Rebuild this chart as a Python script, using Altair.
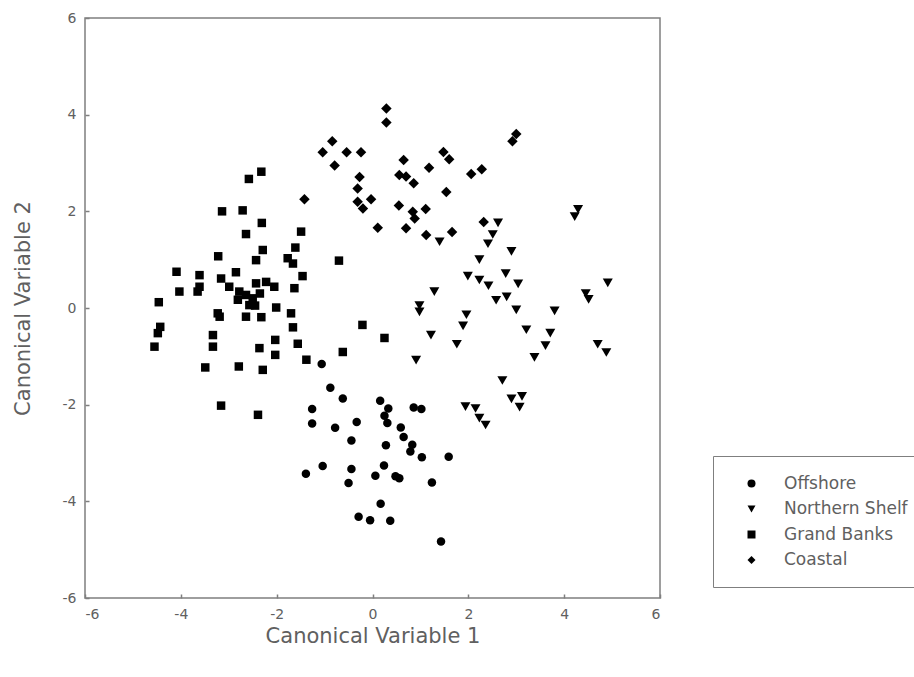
import altair as alt
import pandas as pd

groups = ["Offshore", "Northern Shelf", "Grand Banks", "Coastal"]

offshore_x = [-1.06, -0.88, -0.62, -1.26, -1.26, -0.78, -0.33, -0.44, 0.16, 0.33, 0.25, 0.31,
              0.86, 1.02, 0.59, 0.65, 0.83, 0.79, 0.28, 1.03, 1.59, -1.39, -1.04, -0.44, -0.50,
              0.24, 0.06, 0.48, 0.56, 1.24, 0.17, -0.29, -0.05, 0.37, 1.43]
offshore_y = [-1.16, -1.65, -1.87, -2.09, -2.39, -2.48, -2.36, -2.74, -1.92, -2.08, -2.23, -2.38,
              -2.06, -2.09, -2.47, -2.67, -2.83, -2.97, -2.84, -3.09, -3.08, -3.43, -3.27, -3.33, -3.62,
              -3.26, -3.47, -3.48, -3.52, -3.61, -4.05, -4.32, -4.39, -4.40, -4.83]

shelf_x = [4.29, 4.22, 2.62, 2.51, 2.41, 2.90, 2.23, 1.40, 1.99, 2.23, 2.42, 2.78, 3.04, 4.91,
           4.45, 4.51, 2.58, 2.80, 3.00, 3.80, 3.21, 3.71, 3.61, 3.38, 4.70, 4.88, 1.96, 1.89,
           1.22, 1.76, 0.91, 1.29, 0.98, 0.98, 2.71, 2.90, 3.12, 3.07, 1.94, 2.15, 2.23, 2.36]
shelf_y = [2.04, 1.89, 1.76, 1.52, 1.33, 1.17, 1.00, 1.37, 0.66, 0.58, 0.46, 0.71, 0.50, 0.52,
           0.30, 0.18, 0.16, 0.23, -0.04, -0.06, -0.45, -0.52, -0.78, -1.02, -0.75, -0.92, -0.14, -0.37,
           -0.56, -0.75, -1.08, 0.34, 0.05, -0.08, -1.50, -1.88, -1.83, -2.05, -2.04, -2.08, -2.28, -2.42]

banks_x = [-2.32, -2.58, -3.14, -2.71, -2.31, -2.64, -1.49, -1.61, -1.77, -1.66, -2.29, -2.43,
           -3.22, -1.46, -1.63, -4.09, -3.61, -3.61, -4.03, -3.16, -2.85, -2.99, -2.43, -2.22,
           -2.05, -4.46, -3.65, -3.23, -3.19, -4.43, -4.48, -4.55, -3.33, -3.33, -3.49, -2.79,
           -2.29, -2.36, -2.03, -2.03, -1.66, -1.56, -2.01, -1.70, -2.32, -2.64, -2.81, -2.57,
           -2.64, -1.38, -3.16, -2.39, -0.70, -0.21, 0.25, -0.62, -2.78, -2.50, -2.45, -2.35]
banks_y = [2.82, 2.67, 2.00, 2.02, 1.76, 1.53, 1.58, 1.25, 1.03, 0.92, 1.20, 0.99,
           1.07, 0.66, 0.41, 0.75, 0.68, 0.44, 0.34, 0.61, 0.74, 0.44, 0.51, 0.54,
           0.44, 0.12, 0.34, -0.11, -0.18, -0.39, -0.52, -0.80, -0.56, -0.80, -1.23, -1.21,
           -1.28, -0.83, -0.66, -0.97, -0.40, -0.74, 0.01, -0.11, -0.19, -0.18, 0.17, 0.06,
           0.27, -1.07, -2.02, -2.21, 0.98, -0.35, -0.62, -0.91, 0.34, 0.20, 0.05, 0.30]

coastal_x = [0.29, 0.29, -0.84, -1.04, -0.79, -0.54, -0.24, -1.42, -0.27, -0.31, -0.31, -0.03,
             -0.20, 0.11, 0.65, 0.56, 0.70, 0.86, 1.18, 1.48, 1.60, 1.54, 2.06, 2.28, 0.55,
             0.84, 0.88, 1.11, 0.70, 1.12, 1.66, 2.32, 2.92, 3.00]
coastal_y = [4.13, 3.84, 3.45, 3.22, 2.95, 3.22, 3.22, 2.25, 2.71, 2.47, 2.20, 2.25,
             2.06, 1.66, 3.06, 2.75, 2.72, 2.58, 2.90, 3.23, 3.08, 2.40, 2.77, 2.87, 2.12,
             1.99, 1.85, 2.05, 1.65, 1.51, 1.57, 1.78, 3.45, 3.60]

axis_ticks = [-6, -4, -2, 0, 2, 4, 6]

rows = []
for name, xs, ys in [("Offshore", offshore_x, offshore_y),
                     ("Northern Shelf", shelf_x, shelf_y),
                     ("Grand Banks", banks_x, banks_y),
                     ("Coastal", coastal_x, coastal_y)]:
    for a, b in zip(xs, ys):
        rows.append({"cv1": a, "cv2": b, "group": name})
df = pd.DataFrame(rows)

FONT = "DejaVu Sans"
GREY = "#606060"
FRAME = "#7f7f7f"

axis_common = dict(
    values=axis_ticks, grid=False, domain=False, tickColor=FRAME, tickSize=4,
    tickWidth=1.5, offset=-4, labelFont=FONT, labelFontSize=14, labelColor=GREY,
    labelExpr="'' + datum.value",
    titleFont=FONT, titleFontSize=21, titleFontWeight="normal", titleColor=GREY,
    labelPadding=9,
)

size_expr = ("datum.group == 'Offshore' ? 72 : datum.group == 'Northern Shelf' ? 100 : "
             "datum.group == 'Grand Banks' ? 72 : 110")

chart = alt.Chart(df).transform_calculate(sz=size_expr).mark_point(
    filled=True, color="black", opacity=1, strokeWidth=0
).encode(
    x=alt.X("cv1:Q", scale=alt.Scale(domain=[-6, 6], nice=False),
            axis=alt.Axis(title="Canonical Variable 1", titlePadding=4, **axis_common)),
    y=alt.Y("cv2:Q", scale=alt.Scale(domain=[-6, 6], nice=False),
            axis=alt.Axis(title="Canonical Variable 2", titlePadding=29, **axis_common)),
    shape=alt.Shape("group:N",
                    scale=alt.Scale(domain=groups,
                                    range=["circle", "triangle-down", "square", "diamond"]),
                    legend=alt.Legend(title=None, orient="none", legendX=628, legendY=438,
                                      padding=19, symbolOffset=11, labelOffset=24,
                                      rowPadding=7.5, symbolSize=64,
                                      symbolFillColor="black", symbolStrokeWidth=0,
                                      symbolOpacity=1,
                                      strokeColor=FRAME, fillColor="white",
                                      labelFont=FONT, labelFontSize=17, labelColor=GREY)),
    size=alt.Size("sz:Q", scale=None),
).properties(
    width=575, height=580,
    autosize=alt.AutoSizeParams(type="none"),
    padding={"left": 85, "top": 18, "right": 254, "bottom": 79},
).configure_view(stroke=FRAME, strokeWidth=1.5)

chart.save("out.html", embed_options={"renderer": "svg", "actions": False})
